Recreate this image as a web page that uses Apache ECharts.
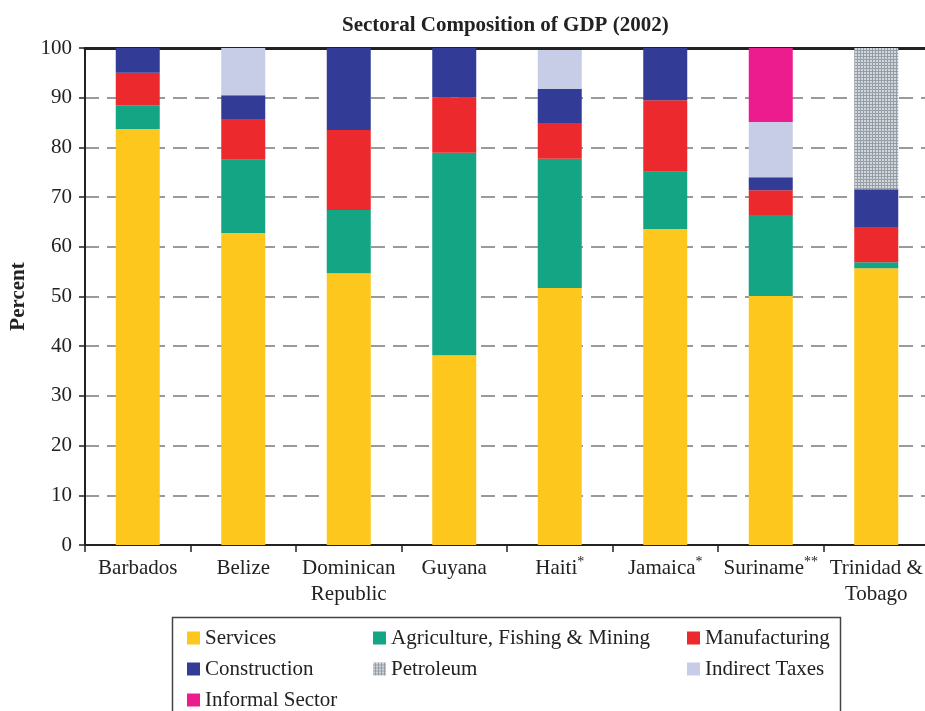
<!DOCTYPE html>
<html>
<head>
<meta charset="utf-8">
<script src="https://cdn.jsdelivr.net/npm/echarts@6/dist/echarts.min.js"></script>
<style>
  html, body { margin: 0; padding: 0; background: #fff; overflow: hidden; }
  #chart { width: 935px; height: 711px; }
</style>
</head>
<body>
<div id="chart"></div>
<script>
// data
const countries = ['Barbados', 'Belize', 'Dominican\nRepublic', 'Guyana', 'Haiti*', 'Jamaica*', 'Suriname**', 'Trinidad &\nTobago'];
const services = [83.7, 62.8, 54.7, 38.2, 51.7, 63.6, 50.1, 55.7];
const agriculture = [4.8, 14.7, 12.7, 40.7, 26.0, 11.5, 16.3, 1.2];
const manufacturing = [6.5, 8.2, 16.1, 11.2, 7.2, 14.4, 5.0, 7.1];
const construction = [5.0, 4.8, 16.5, 9.9, 6.9, 10.5, 2.6, 7.6];
const petroleum = ['-', '-', '-', '-', '-', '-', '-', 28.4];
const indirectTaxes = ['-', 9.5, '-', '-', 7.8, '-', 11.1, '-'];
const informal = ['-', '-', '-', '-', '-', '-', 14.9, '-'];

const serif = '"Liberation Serif", "DejaVu Serif", serif';

// grey dotted pattern for petroleum
const pat = document.createElement('canvas');
pat.width = 3; pat.height = 3;
const pc = pat.getContext('2d');
pc.fillStyle = '#959ea7';
pc.fillRect(0, 0, 3, 3);
pc.fillStyle = '#d2d7db';
pc.fillRect(0, 0, 2, 2);
const petroleumFill = { image: pat, repeat: 'repeat' };

function bar(name, data, color) {
  return {
    name: name,
    type: 'bar',
    stack: 'gdp',
    data: data,
    barWidth: 44,
    itemStyle: { color: color },
    emphasis: { disabled: true }
  };
}

function legendCol(names, left) {
  return {
    data: names,
    orient: 'vertical', left: left, top: 627, padding: 0, itemGap: 9,
    itemWidth: 13, itemHeight: 13, icon: 'rect',
    textStyle: { fontFamily: serif, fontSize: 21, color: '#222', lineHeight: 22 }
  };
}

const chart = echarts.init(document.getElementById('chart'));
chart.setOption({
  animation: false,
  title: {
    text: 'Sectoral Composition of GDP (2002)',
    left: 337,
    top: 10,
    textStyle: { fontFamily: serif, fontSize: 21, fontWeight: 'bold', color: '#222' }
  },
  grid: { left: 85, right: 6, top: 48, bottom: 166, outerBoundsMode: 'none' },
  graphic: [{
    type: 'rect',
    shape: { x: 172.5, y: 617.5, width: 668, height: 110 },
    style: { fill: 'none', stroke: '#444', lineWidth: 1.5 },
    z: 0
  }],
  legend: [
    legendCol(['Services', 'Construction', 'Informal Sector'], 187),
    legendCol(['Agriculture, Fishing & Mining', 'Petroleum'], 373),
    legendCol(['Manufacturing', 'Indirect Taxes'], 687)
  ],
  xAxis: [
    {
      type: 'category',
      data: countries,
      axisLine: { lineStyle: { color: '#222', width: 2 } },
      axisTick: { show: true, length: 7, lineStyle: { color: '#222', width: 1.5 } },
      axisLabel: {
        fontFamily: serif, fontSize: 21, color: '#222', margin: 10, lineHeight: 26, interval: 0,
        formatter: v => v.replace(/(\*+)/, '{s|$1}'),
        rich: { s: { fontFamily: serif, fontSize: 14, color: '#222', verticalAlign: 'top', lineHeight: 26, padding: [0, 0, 4, 0] } }
      }
    },
    {
      type: 'category',
      position: 'top',
      data: countries,
      axisLine: { lineStyle: { color: '#222', width: 3 } },
      axisTick: { show: false },
      axisLabel: { show: false }
    }
  ],
  yAxis: {
    type: 'value',
    min: 0,
    max: 100,
    interval: 10,
    name: 'Percent',
    nameLocation: 'middle',
    nameRotate: 90,
    nameGap: 56,
    nameTextStyle: { fontFamily: serif, fontSize: 21, fontWeight: 'bold', color: '#222' },
    axisLine: { show: true, lineStyle: { color: '#222', width: 2 } },
    axisTick: { show: true, length: 6, lineStyle: { color: '#222', width: 1.5 } },
    axisLabel: { fontFamily: serif, fontSize: 21, color: '#222', margin: 13 },
    splitLine: { show: true, lineStyle: { color: '#7a7a7a', width: 1.5, type: [14, 8] } }
  },
  series: [
    bar('Services', services, '#fdc71e'),
    bar('Agriculture, Fishing & Mining', agriculture, '#14a584'),
    bar('Manufacturing', manufacturing, '#ec2a2d'),
    bar('Construction', construction, '#323c97'),
    bar('Petroleum', petroleum, petroleumFill),
    bar('Indirect Taxes', indirectTaxes, '#c7cde6'),
    bar('Informal Sector', informal, '#ec1c8e')
  ]
});
</script>
</body>
</html>
